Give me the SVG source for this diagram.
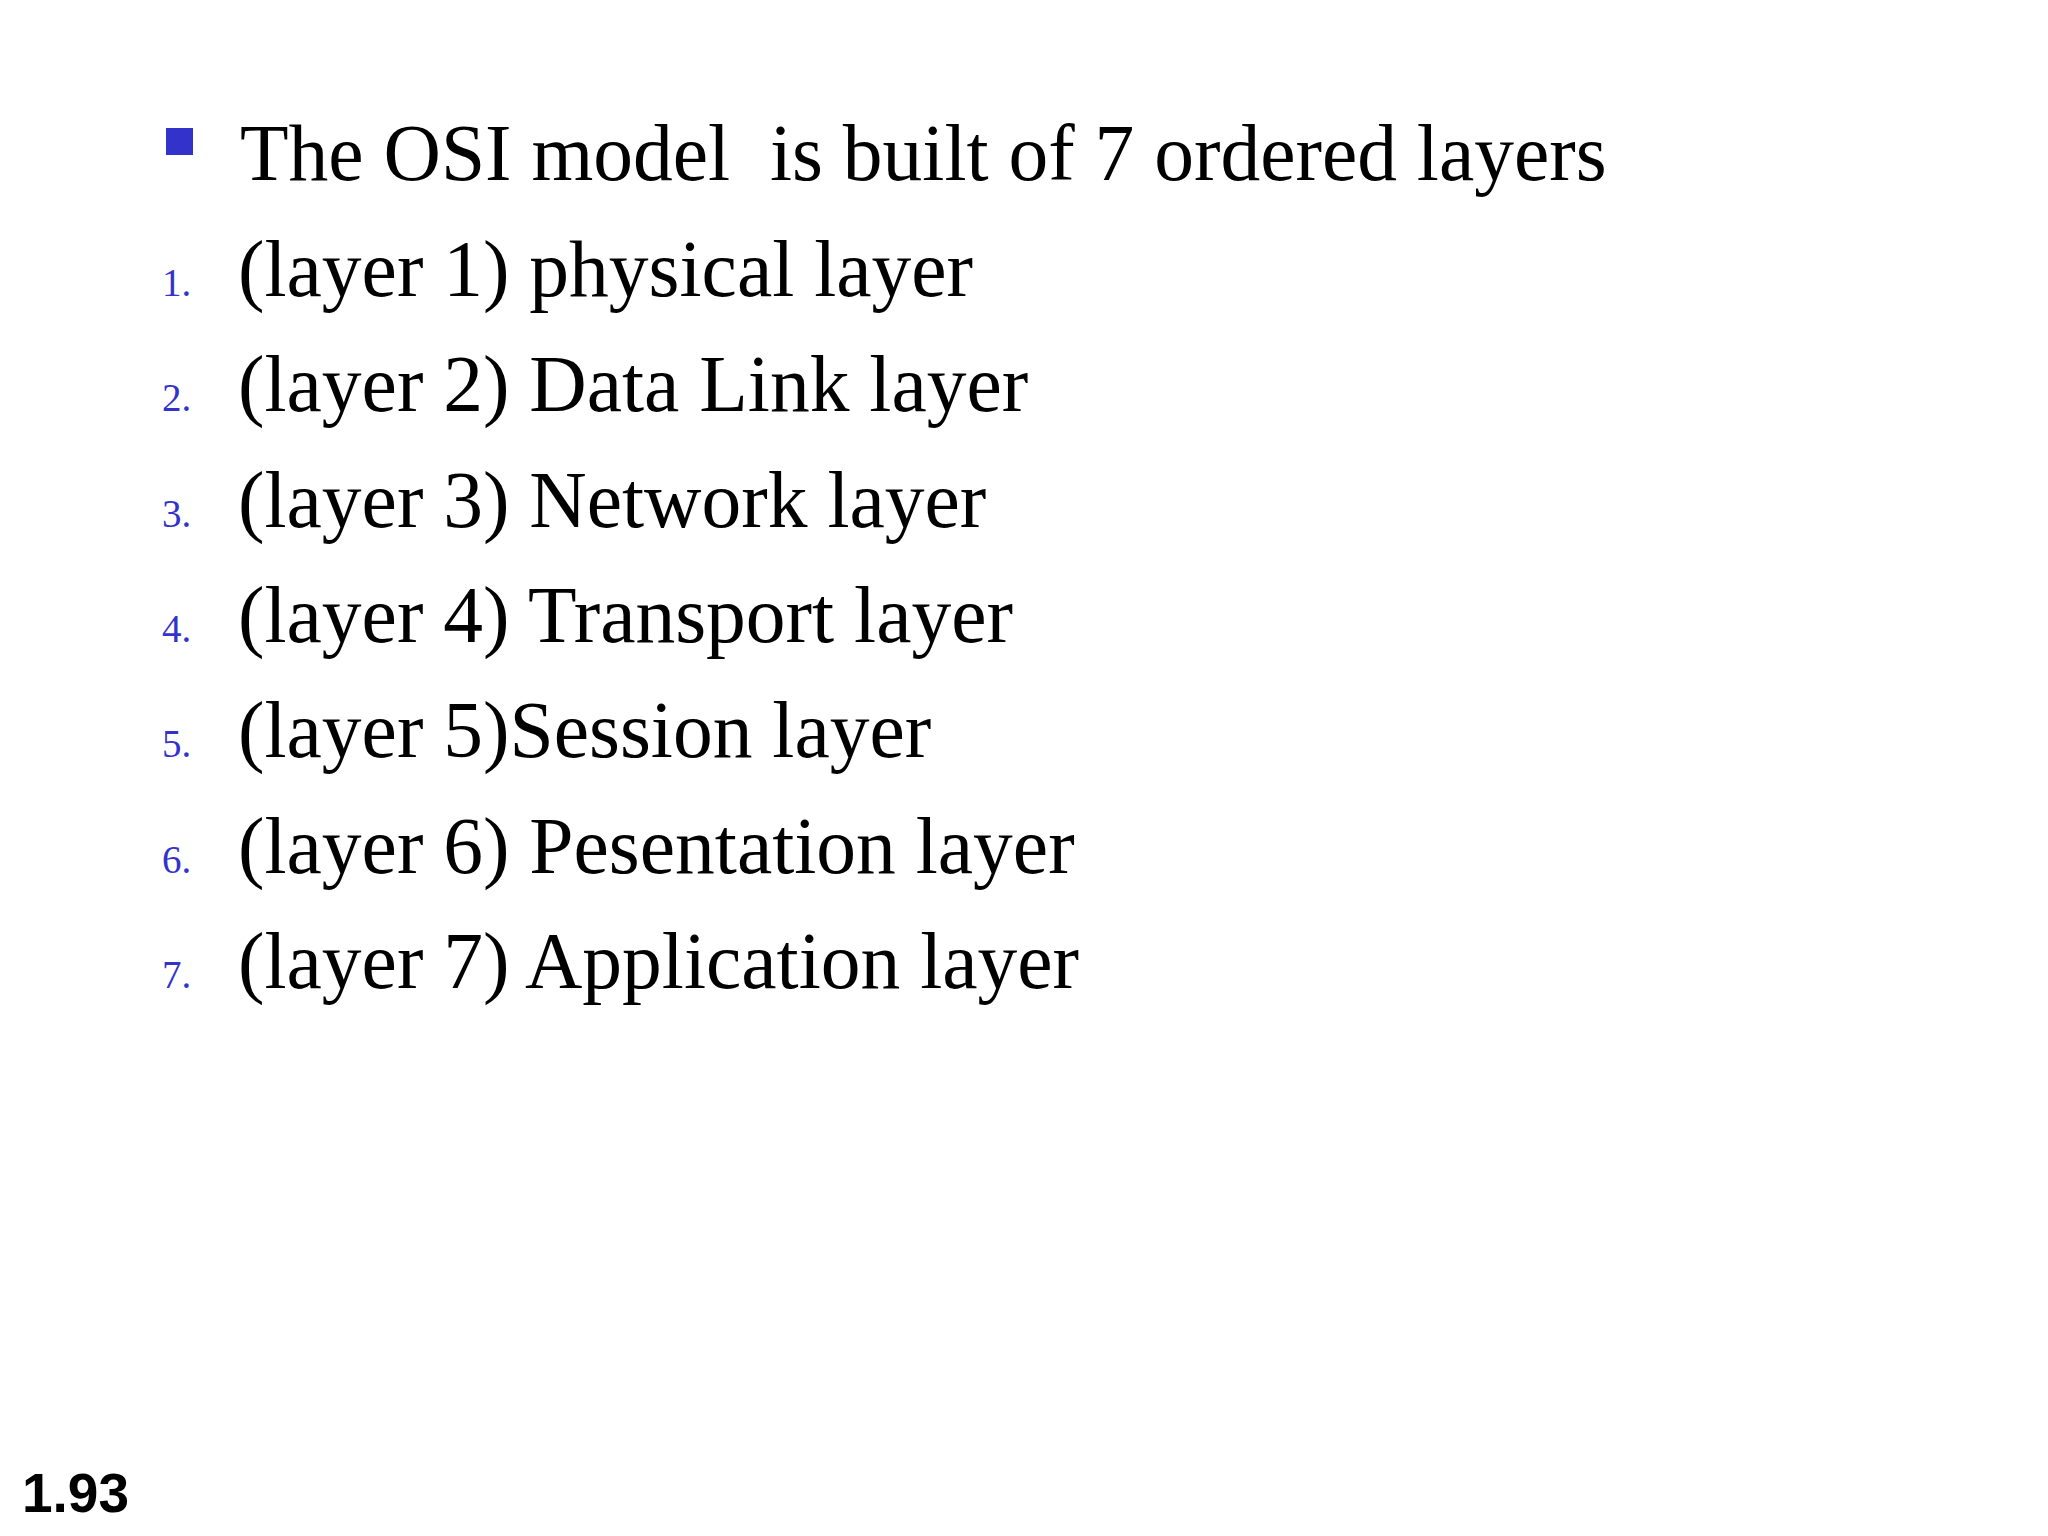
<svg xmlns="http://www.w3.org/2000/svg" width="2048" height="1536" viewBox="0 0 2048 1536">
<style>
.t{font-family:"Liberation Serif",serif;font-size:79.5px;fill:#000}
.n{font-family:"Liberation Serif",serif;font-size:39px;fill:#3333cc}
</style>
<rect width="2048" height="1536" fill="#fff"/>
<g id="title">
<rect x="166" y="128" width="27" height="27" fill="#3333cc"/>
<text class="t" x="240" y="180" xml:space="preserve">The OSI model  is built of 7 ordered layers</text>
</g>
<g id="list">
<text class="n" x="162" y="296">1.</text><text class="t" x="238" y="296">(layer 1) physical layer</text>
<text class="n" x="162" y="411">2.</text><text class="t" x="238" y="411">(layer 2) Data Link layer</text>
<text class="n" x="162" y="527">3.</text><text class="t" x="238" y="527">(layer 3) Network layer</text>
<text class="n" x="162" y="642">4.</text><text class="t" x="238" y="642">(layer 4) Transport layer</text>
<text class="n" x="162" y="757">5.</text><text class="t" x="238" y="757">(layer 5)Session layer</text>
<text class="n" x="162" y="873">6.</text><text class="t" x="238" y="873">(layer 6) Pesentation layer</text>
<text class="n" x="162" y="988">7.</text><text class="t" x="238" y="988">(layer 7) Application layer</text>
</g>
<text x="22" y="1512" font-family="Liberation Sans,sans-serif" font-weight="bold" font-size="55" fill="#000">1.93</text>
</svg>
